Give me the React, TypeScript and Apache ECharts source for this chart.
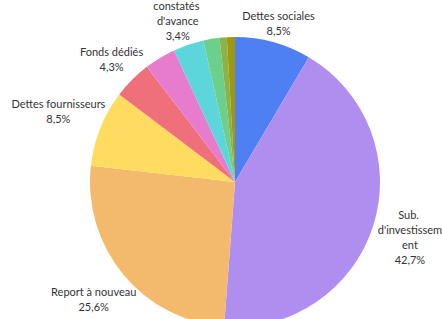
import React, { useEffect, useRef } from "react";
import * as echarts from "echarts";

const categories = [
  "Dettes sociales",
  "Sub. d'investissement",
  "Report à nouveau",
  "Dettes fournisseurs",
  "Fonds dédiés",
  "Provisions",
  "Produits constatés d'avance",
  "Dettes fiscales",
  "Autres dettes",
  "Emprunts",
];
const values = [8.5, 42.7, 25.6, 8.5, 4.3, 3.5, 3.4, 1.8, 0.8, 0.9];
const colors = [
  "#4e80f3",
  "#b08ef0",
  "#f3b96d",
  "#ffdb5f",
  "#ef6f7b",
  "#e77ccf",
  "#5cd6da",
  "#6ccf8c",
  "#8db24a",
  "#a0980f",
];
const labelShown = [true, true, true, true, true, false, true, false, false, false];
const labelWidths: (number | null)[] = [null, 70, null, null, null, null, 56, null, null, null];

const CX = 235;
const CY = 182;
const R = 145;
const LABEL_R0 = 141;

export default function App() {
  const ref = useRef<HTMLDivElement>(null);
  useEffect(() => {
    if (!ref.current) return;
    const chart = echarts.init(ref.current, undefined, { renderer: "svg" });
    const total = values.reduce((a, b) => a + b, 0);
    const cum: number[] = [];
    let acc = 0;
    values.forEach((v) => {
      cum.push(acc);
      acc += v;
    });
    const fmt = (p: number) => p.toFixed(1).replace(".", ",");
    chart.setOption({
      animation: false,
      series: [
        {
          type: "pie",
          center: [CX, CY],
          radius: [0, R],
          startAngle: 90,
          clockwise: true,
          avoidLabelOverlap: false,
          label: {
            show: true,
            position: "outside",
            color: "#333",
            fontFamily: "Lato",
            fontSize: 11,
            lineHeight: 15,
            formatter: (p: any) => `${p.name}\n${fmt(p.percent)}%`,
          },
          labelLine: { show: false },
          labelLayout: (params: any) => {
            const i = params.dataIndex;
            const mid = ((cum[i] + values[i] / 2) / total) * Math.PI * 2;
            const dx = Math.sin(mid);
            const dy = -Math.cos(mid);
            const w = params.labelRect.width;
            const h = params.labelRect.height;
            const rr = LABEL_R0 + (w / 2) * Math.abs(dx) + (h / 2) * Math.abs(dy);
            return {
              x: CX + rr * dx,
              y: CY + rr * dy,
              align: "center",
              verticalAlign: "middle",
            };
          },
          data: categories.map((name, i) => ({
            name,
            value: values[i],
            itemStyle: { color: colors[i] },
            label: labelWidths[i]
              ? { show: labelShown[i], width: labelWidths[i], overflow: "break" }
              : { show: labelShown[i] },
          })),
        },
      ],
    });
    return () => chart.dispose();
  }, []);
  return (
    <div
      ref={ref}
      style={{ position: "fixed", left: 0, top: 0, width: 442, height: 319, background: "#fff" }}
    />
  );
}
